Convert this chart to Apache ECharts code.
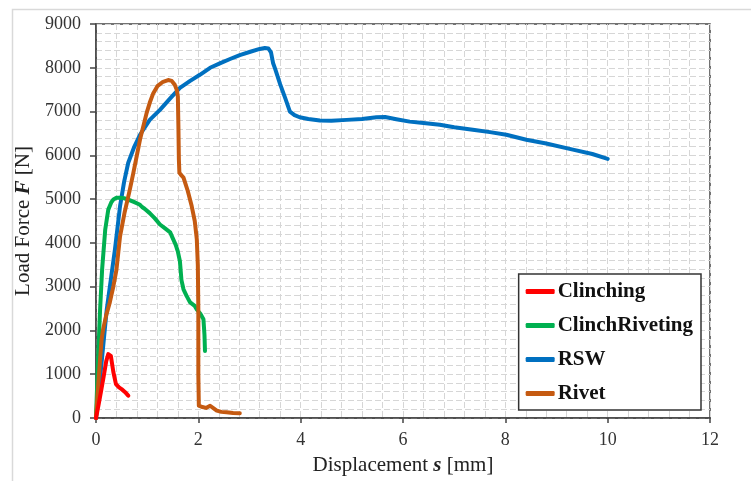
<!DOCTYPE html>
<html>
<head>
<meta charset="utf-8">
<script src="https://cdn.jsdelivr.net/npm/echarts@6/dist/echarts.min.js"></script>
<style>html,body{margin:0;padding:0;background:#fff;}#c{width:751px;height:481px;}</style>
</head>
<body>
<div id="c"></div>
<script>
var xTicks = [0, 2, 4, 6, 8, 10, 12];
var yTicks = [0, 1000, 2000, 3000, 4000, 5000, 6000, 7000, 8000, 9000];

var clinchingX = [0, 0.05, 0.1, 0.15, 0.2, 0.24, 0.29, 0.34, 0.39, 0.45, 0.5, 0.57, 0.63];
var clinchingY = [0, 300, 620, 950, 1300, 1460, 1420, 1045, 775, 700, 660, 590, 510];

var clinchRivX = [0, 0.03, 0.06, 0.08, 0.12, 0.18, 0.24, 0.3, 0.34, 0.4, 0.47, 0.55, 0.63, 0.75, 0.86, 0.9, 0.92, 0.95, 1.05, 1.15, 1.25, 1.35, 1.45, 1.51, 1.56, 1.6, 1.64, 1.67, 1.71, 1.77, 1.84, 1.93, 1.97, 2.04, 2.1, 2.12, 2.13];
var clinchRivY = [0, 1000, 1900, 2480, 3400, 4300, 4760, 4930, 4990, 5030, 5030, 5020, 4990, 4930, 4870, 4820, 4860, 4780, 4680, 4560, 4420, 4330, 4240, 4080, 3950, 3800, 3580, 3150, 2940, 2790, 2640, 2560, 2480, 2380, 2255, 1900, 1530];

var rswX = [0, 0.1, 0.21, 0.3, 0.37, 0.47, 0.55, 0.63, 0.75, 0.86, 1.05, 1.25, 1.45, 1.64, 1.84, 2.03, 2.23, 2.42, 2.62, 2.81, 3.0, 3.2, 3.3, 3.37, 3.42, 3.46, 3.5, 3.6, 3.7, 3.79, 3.88, 3.98, 4.15, 4.375, 4.6, 4.9, 5.2, 5.48, 5.65, 5.87, 6.13, 6.4, 6.72, 7.0, 7.4, 7.7, 8.02, 8.41, 8.8, 9.32, 9.7, 10.0];
var rswY = [0, 1150, 2480, 3250, 3850, 4840, 5400, 5830, 6200, 6470, 6810, 7040, 7300, 7540, 7700, 7840, 8000, 8100, 8200, 8290, 8360, 8430, 8450, 8440, 8350, 8110, 7980, 7620, 7300, 7000, 6920, 6870, 6830, 6795, 6790, 6810, 6830, 6870, 6875, 6825, 6770, 6740, 6700, 6640, 6580, 6530, 6470, 6355, 6270, 6130, 6030, 5920];

var rivetX = [0, 0.04, 0.08, 0.11, 0.14, 0.2, 0.27, 0.34, 0.4, 0.47, 0.56, 0.66, 0.73, 0.86, 0.99, 1.05, 1.12, 1.2, 1.31, 1.41, 1.48, 1.54, 1.58, 1.6, 1.61, 1.62, 1.63, 1.67, 1.71, 1.79, 1.87, 1.93, 1.97, 1.99, 2.0, 2.0, 2.01, 2.03, 2.08, 2.15, 2.23, 2.3, 2.36, 2.45, 2.55, 2.68, 2.81];
var rivetY = [0, 700, 1340, 1800, 2030, 2350, 2640, 3010, 3390, 4150, 4700, 5210, 5600, 6360, 6970, 7200, 7420, 7580, 7680, 7720, 7700, 7610, 7490, 7340, 6700, 5900, 5600, 5540, 5490, 5200, 4840, 4500, 4080, 3500, 2500, 1000, 280, 270, 250, 230, 280, 220, 170, 140, 130, 115, 110];

function pairs(xs, ys) { return xs.map(function (x, i) { return [x, ys[i]]; }); }

var FONT = '"Liberation Serif", "Times New Roman", serif';
var chart = echarts.init(document.getElementById('c'));
var gridLine = { show: true, lineStyle: { color: '#d6d6d6', type: [6, 3], width: 1 } };

function mkSeries(name, xs, ys, color) {
  return {
    name: name, type: 'line', data: pairs(xs, ys), showSymbol: false, symbol: 'none',
    lineStyle: { color: color, width: 4, cap: 'round', join: 'round' },
    itemStyle: { color: color }, animation: false
  };
}
var nameRich = {
  a: { fontFamily: FONT, fontSize: 21, color: '#222' },
  b: { fontFamily: FONT, fontSize: 21, fontWeight: 'bold', fontStyle: 'italic', color: '#222' }
};

chart.setOption({
  animation: false,
  backgroundColor: '#fff',
  graphic: [{
    type: 'rect', left: 10, top: 7, shape: { width: 800, height: 520 },
    style: { fill: 'none', stroke: '#d9d9d9', lineWidth: 1.5 }, silent: true, z: -10
  }],
  grid: { left: 96, top: 24, right: 41, bottom: 62, show: true, borderColor: '#444', borderWidth: 1.5, backgroundColor: 'transparent' },
  legend: {
    orient: 'vertical', right: 50, bottom: 71, itemGap: 13,
    itemWidth: 29, itemHeight: 5, icon: 'roundRect',
    backgroundColor: '#fff', borderColor: '#333', borderWidth: 1.5,
    padding: [7, 8, 6, 7],
    textStyle: { fontFamily: FONT, fontWeight: 'bold', fontSize: 21, color: '#111', padding: [0, 0, 0, -2] },
    data: ['Clinching', 'ClinchRiveting', 'RSW', 'Rivet']
  },
  xAxis: {
    type: 'value', min: xTicks[0], max: xTicks[xTicks.length - 1], interval: 2,
    name: '{a|Displacement }{b|s}{a| [mm]}', nameLocation: 'middle', nameGap: 37,
    nameTextStyle: { rich: nameRich },
    axisLine: { show: true, lineStyle: { color: '#444', width: 1.5 } },
    axisTick: { show: true, length: 5, lineStyle: { color: '#444', width: 1.5 } },
    axisLabel: { fontFamily: FONT, fontSize: 18, color: '#333', margin: 13, formatter: function (v) { return String(v); } },
    splitLine: gridLine,
    minorTick: { show: false, splitNumber: 5 },
    minorSplitLine: gridLine
  },
  yAxis: {
    type: 'value', min: yTicks[0], max: yTicks[yTicks.length - 1], interval: 1000,
    name: '{a|Load Force }{b|F}{a| [N]}', nameLocation: 'middle', nameGap: 58,
    nameTextStyle: { rich: nameRich },
    axisLine: { show: true, lineStyle: { color: '#444', width: 1.5 } },
    axisTick: { show: true, length: 6, lineStyle: { color: '#444', width: 1.5 } },
    axisLabel: { fontFamily: FONT, fontSize: 18, color: '#333', margin: 15, formatter: function (v) { return String(v); } },
    splitLine: gridLine,
    minorTick: { show: false, splitNumber: 5 },
    minorSplitLine: gridLine
  },
  series: [
    mkSeries('RSW', rswX, rswY, '#0070C0'),
    mkSeries('ClinchRiveting', clinchRivX, clinchRivY, '#00B050'),
    mkSeries('Rivet', rivetX, rivetY, '#C55A11'),
    mkSeries('Clinching', clinchingX, clinchingY, '#FF0000')
  ]
});
</script>
</body>
</html>
